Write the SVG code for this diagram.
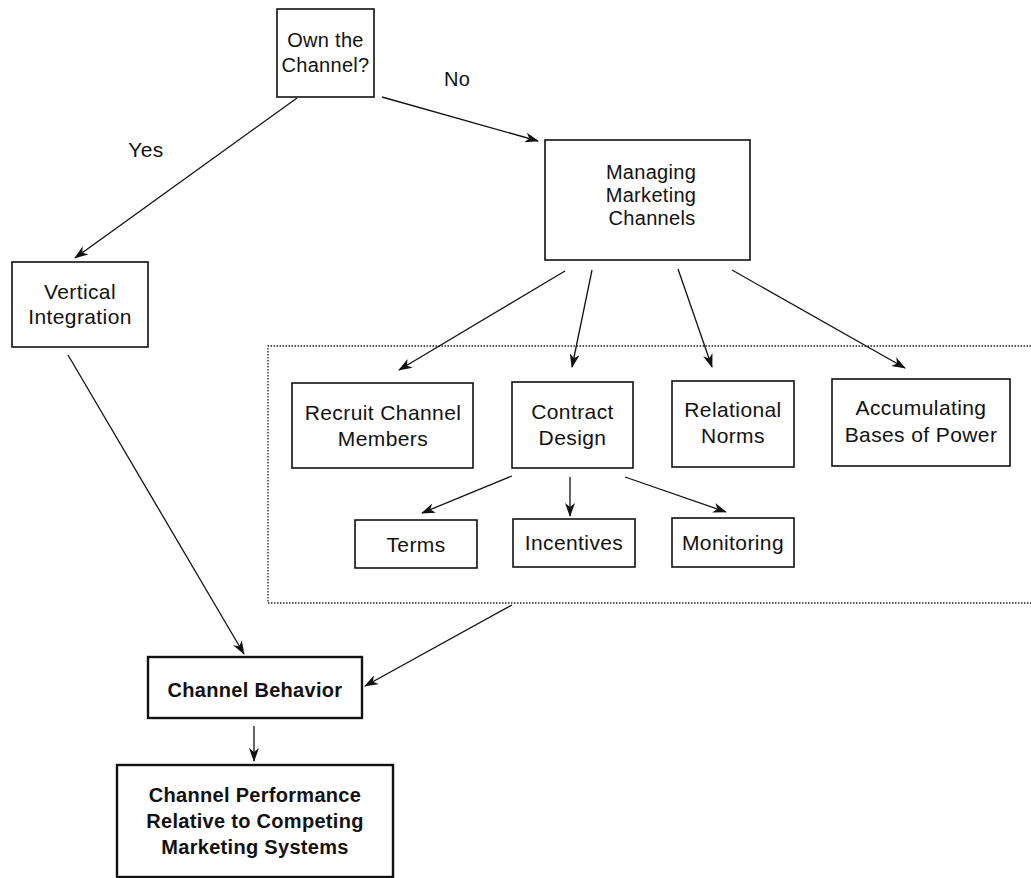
<svg xmlns="http://www.w3.org/2000/svg" width="1031" height="878" viewBox="0 0 1031 878">
<style>
.box{fill:#fff;stroke:#111;stroke-width:1.6}
.bbox{fill:#fff;stroke:#111;stroke-width:2.4}
.t{font-family:"Liberation Sans",Arial,sans-serif;font-size:21px;letter-spacing:0.4px;fill:#111;text-anchor:middle}
.s{font-size:20px;letter-spacing:0.3px}
.b{font-weight:bold;font-size:20px;letter-spacing:0.3px}
.c{stroke:#111;stroke-width:1.3;fill:none;marker-end:url(#ah)}
.dot{fill:none;stroke:#222;stroke-width:1.3;stroke-dasharray:1.5,1.5}
</style>
<defs>
<marker id="ah" markerWidth="14" markerHeight="10" refX="13" refY="5" orient="auto" markerUnits="userSpaceOnUse">
<path d="M0,0 L14,5 L0,10 L4,5 Z" fill="#111"/>
</marker>
</defs>
<rect width="1031" height="878" fill="#fff"/>
<path class="dot" d="M1040,346 H268 V603 H1040"/>
<g id="connectors">
<line class="c" x1="382" y1="97" x2="538" y2="141"/>
<line class="c" x1="297" y1="98" x2="75" y2="258"/>
<line class="c" x1="565" y1="271" x2="399" y2="370"/>
<line class="c" x1="592" y1="270" x2="572" y2="367"/>
<line class="c" x1="678" y1="269" x2="712" y2="367"/>
<line class="c" x1="732" y1="270" x2="905" y2="368"/>
<line class="c" x1="512" y1="476" x2="422" y2="513"/>
<line class="c" x1="570" y1="477" x2="570" y2="516"/>
<line class="c" x1="625" y1="477" x2="726" y2="512"/>
<line class="c" x1="68" y1="355" x2="244" y2="654"/>
<line class="c" x1="512" y1="605" x2="365" y2="686"/>
<line class="c" x1="254" y1="726" x2="254" y2="761"/>
</g>
<text class="t" x="146" y="157">Yes</text>
<text class="t s" x="457" y="86">No</text>
<g id="own"><rect class="box" x="277" y="9" width="97" height="88"/><text class="t s" x="325.5" y="47">Own the</text><text class="t s" x="325.5" y="72">Channel?</text></g>
<g id="managing"><rect class="box" x="545" y="140" width="205" height="120"/><text class="t s" x="651" y="179">Managing</text><text class="t s" x="651" y="202">Marketing</text><text class="t s" x="652" y="225">Channels</text></g>
<g id="vertical"><rect class="box" x="12" y="262" width="136" height="85"/><text class="t" x="80" y="299">Vertical</text><text class="t" x="80" y="324">Integration</text></g>
<g id="recruit"><rect class="box" x="292" y="383" width="181" height="85"/><text class="t" x="383" y="420">Recruit Channel</text><text class="t" x="383" y="446">Members</text></g>
<g id="contract"><rect class="box" x="512" y="382" width="121" height="86"/><text class="t" x="572.5" y="419">Contract</text><text class="t" x="572.5" y="445">Design</text></g>
<g id="relational"><rect class="box" x="672" y="381" width="122" height="86"/><text class="t" x="733" y="417">Relational</text><text class="t" x="733" y="443">Norms</text></g>
<g id="accumulating"><rect class="box" x="832" y="379" width="178" height="87"/><text class="t" x="921" y="415">Accumulating</text><text class="t" x="921" y="442">Bases of Power</text></g>
<g id="terms"><rect class="box" x="355" y="520" width="122" height="48"/><text class="t" x="416" y="552">Terms</text></g>
<g id="incentives"><rect class="box" x="513" y="519" width="122" height="48"/><text class="t" x="574" y="550">Incentives</text></g>
<g id="monitoring"><rect class="box" x="672" y="518" width="122" height="49"/><text class="t" x="733" y="550">Monitoring</text></g>
<g id="behavior"><rect class="bbox" x="148" y="657" width="214" height="61"/><text class="t b" x="255" y="697">Channel Behavior</text></g>
<g id="performance"><rect class="bbox" x="117" y="765" width="276" height="112"/><text class="t b" x="255" y="802">Channel Performance</text><text class="t b" x="255" y="828">Relative to Competing</text><text class="t b" x="255" y="854">Marketing Systems</text></g>
</svg>
